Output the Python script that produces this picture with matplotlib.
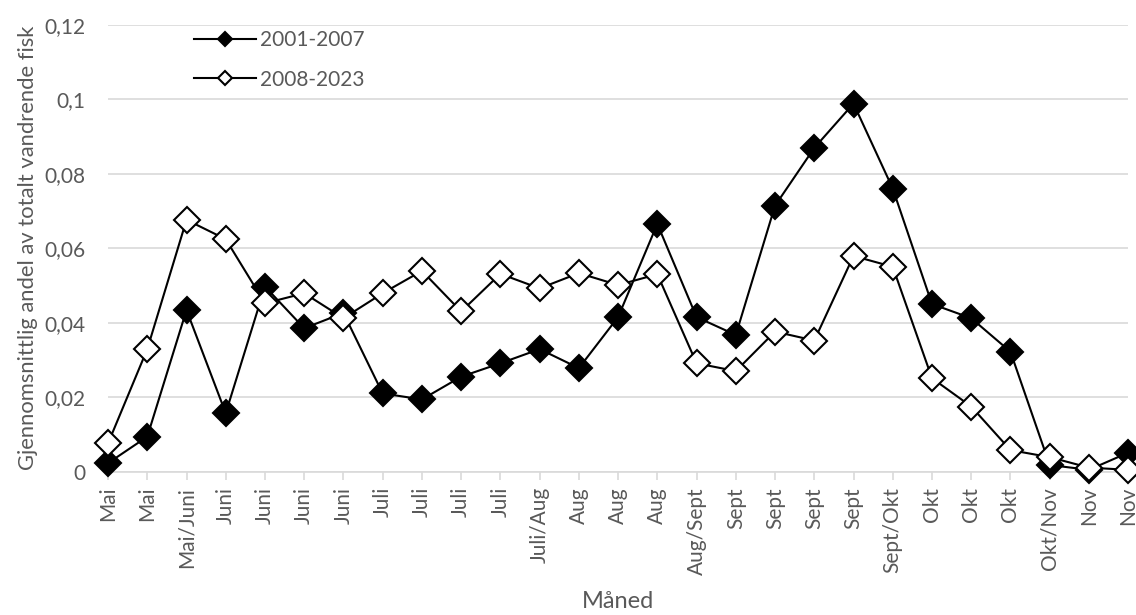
import matplotlib
matplotlib.use("Agg")
import matplotlib.pyplot as plt
import numpy as np

categories = ["Mai", "Mai", "Mai/Juni", "Juni", "Juni", "Juni", "Juni", "Juli", "Juli",
              "Juli", "Juli", "Juli/Aug", "Aug", "Aug", "Aug", "Aug/Sept", "Sept", "Sept",
              "Sept", "Sept", "Sept/Okt", "Okt", "Okt", "Okt", "Okt/Nov", "Nov", "Nov"]

s_2001_2007 = [0.0023, 0.0094, 0.0434, 0.0157, 0.0497, 0.0385, 0.0426, 0.0210, 0.0194,
               0.0255, 0.0291, 0.0329, 0.0278, 0.0415, 0.0665, 0.0415, 0.0367, 0.0714,
               0.0869, 0.0988, 0.0760, 0.0450, 0.0412, 0.0322, 0.0018, 0.0005, 0.0051]

s_2008_2023 = [0.0076, 0.0329, 0.0676, 0.0624, 0.0452, 0.0479, 0.0412, 0.0479, 0.0539,
               0.0430, 0.0531, 0.0492, 0.0533, 0.0501, 0.0530, 0.0291, 0.0270, 0.0376,
               0.0352, 0.0579, 0.0550, 0.0251, 0.0175, 0.0058, 0.0039, 0.0011, 0.0005]

y_ticks = [0, 0.02, 0.04, 0.06, 0.08, 0.10, 0.12]
y_tick_labels = ["0", "0,02", "0,04", "0,06", "0,08", "0,1", "0,12"]

plt.rcParams['font.family'] = ['Lato', 'DejaVu Sans']
gray = "#595959"
grid = "#D9D9D9"

fig = plt.figure(figsize=(11.36, 6.15), dpi=100)
ax = fig.add_axes([0.0951, 0.233, 0.898, 0.727])

x = np.arange(len(categories))
ax.plot(x, s_2001_2007, color="black", lw=1.5, marker="D", ms=13,
        mfc="black", mec="black", mew=1.5, label="2001-2007", zorder=3, clip_on=False)
ax.plot(x, s_2008_2023, color="black", lw=1.5, marker="D", ms=13,
        mfc="white", mec="black", mew=1.5, label="2008-2023", zorder=4, clip_on=False)

ax.set_xlim(0, len(categories) - 1)
ax.set_ylim(0, 0.12)
ax.set_yticks(y_ticks)
ax.set_yticklabels(y_tick_labels)
ax.set_xticks(x)
ax.set_xticklabels(categories, rotation=90)

ax.grid(axis="y", color=grid, lw=1.2, zorder=0)
ax.set_axisbelow(True)
for side in ["left", "right", "top"]:
    ax.spines[side].set_visible(False)
ax.spines["bottom"].set_color(grid)
ax.spines["bottom"].set_linewidth(1.2)
ax.spines["bottom"].set_zorder(1)

ax.tick_params(axis="y", length=0, labelsize=15, labelcolor=gray, pad=16)
ax.tick_params(axis="x", length=6, color=grid, width=1.2, labelsize=15, labelcolor=gray, pad=5)

ax.set_ylabel("Gjennomsnittlig andel av totalt vandrende fisk", fontsize=15.8, color=gray, labelpad=5)
ax.set_xlabel("Måned", fontsize=17, color=gray, labelpad=12)

leg = ax.legend(loc="upper left", bbox_to_anchor=(0.066, 1.03), frameon=False,
                fontsize=15, handlelength=2.95, handletextpad=0.2, labelspacing=0.95,
                markerscale=0.55)
for t in leg.get_texts():
    t.set_color(gray)

fig.savefig("out.png", dpi=100)
